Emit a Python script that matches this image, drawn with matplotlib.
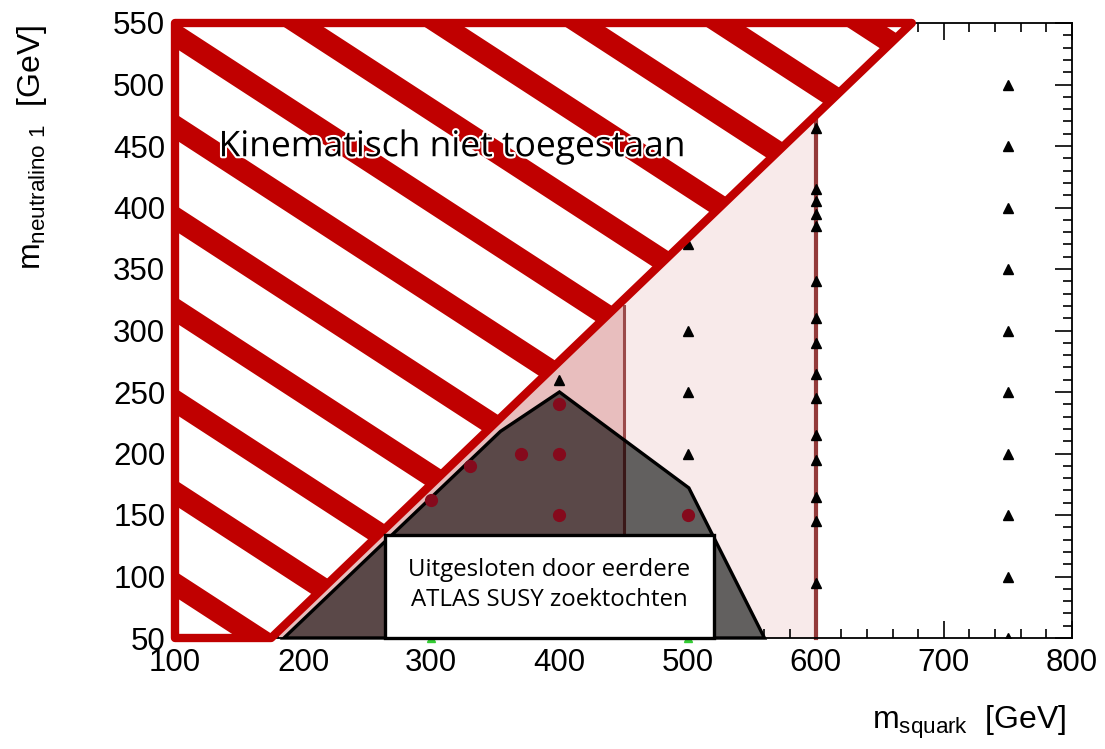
import numpy as np
import matplotlib
matplotlib.use("Agg")
import matplotlib.pyplot as plt
from matplotlib.patches import Polygon, Rectangle
import matplotlib.patheffects as pe

plt.rcParams['font.family'] = ['Liberation Sans', 'DejaVu Sans']
plt.rcParams['mathtext.fontset'] = 'custom'
plt.rcParams['mathtext.rm'] = 'Liberation Sans'
plt.rcParams['mathtext.default'] = 'regular'

# ---------------- data ----------------
x_ticks = [100, 200, 300, 400, 500, 600, 700, 800]
y_ticks = [50, 100, 150, 200, 250, 300, 350, 400, 450, 500, 550]

# kinematically forbidden region (hatched)
kin_x = [100, 100, 675, 175]
kin_y = [50, 550, 550, 50]

# excluded by earlier ATLAS SUSY searches
excl_x = [185, 354, 400, 501, 560]
excl_y = [50, 218, 250, 172, 50]

# shaded sensitivity regions
band1_x = [175, 450, 450]
band1_y = [50, 50, 325]
band2_x = [450, 600, 600, 450]
band2_y = [50, 50, 475, 325]
edge450_y = [50, 320]
edge450_dark_y = [50, 211]
edge600_y = [50, 472]

# signal grid points (triangles)
tri_x = ([400] +
         [500] * 4 +
         [600] * 15 +
         [750] * 10)
tri_y = ([260] +
         [370, 300, 250, 200] +
         [465, 415, 405, 395, 385, 340, 310, 290, 265, 245, 215, 195, 165, 145, 95] +
         [500, 450, 400, 350, 300, 250, 200, 150, 100, 50])

# excluded points (circles)
circ_x = [300, 330, 370, 400, 400, 400, 500]
circ_y = [162, 190, 200, 240, 200, 150, 150]

# points on the lower edge (green, mostly hidden)
green_x = [300, 500]
green_y = [50, 50]

kin_label = "Kinematisch niet toegestaan"
excl_label = "Uitgesloten door eerdere\nATLAS SUSY zoektochten"

# ---------------- figure ----------------
W, H = 1105, 749
fig = plt.figure(figsize=(W / 100, H / 100), dpi=100)
ax = fig.add_axes([175 / W, 1 - 638 / H, (1072 - 175) / W, (638 - 23) / H])
ax.set_xlim(100, 800)
ax.set_ylim(50, 550)

RED = '#c00000'

# pink bands
ax.fill(band1_x, band1_y, color='#e8bebe', zorder=1, lw=0)
ax.fill(band2_x, band2_y, color='#f8eaea', zorder=1, lw=0)

# excluded region
ex_poly = list(zip(excl_x, excl_y))
p_right = Polygon(ex_poly, closed=True, facecolor='#62605f', edgecolor='none', zorder=2)
ax.add_patch(p_right)
p_left = Polygon(ex_poly, closed=True, facecolor='#5a4848', edgecolor='none', zorder=2.1)
ax.add_patch(p_left)
clip_rect = Rectangle((100, 50), 350, 500, transform=ax.transData, visible=False)
ax.add_patch(clip_rect)
p_left.set_clip_path(clip_rect)

# vertical boundary lines
ax.plot([450, 450], edge450_y, color='#9b4a4a', lw=2.2, zorder=2.2)
ax.plot([450, 450], edge450_dark_y, color='#3a1818', lw=2.2, zorder=2.3)
ax.plot([600, 600], edge600_y, color='#933a3a', lw=3, zorder=2.2, clip_on=False)

ax.plot(green_x, green_y, linestyle='none', marker='^', ms=6, color='#33cc33',
        zorder=2.35, clip_on=False)

p_edge = Polygon(ex_poly, closed=True, facecolor='none', edgecolor='black',
                 lw=2.4, zorder=2.5, clip_on=False)
ax.add_patch(p_edge)

# points
ax.plot(tri_x, tri_y, linestyle='none', marker='^', ms=6.5, color='black', zorder=3)
ax.plot(circ_x, circ_y, linestyle='none', marker='o', ms=8.5, color='#850a1c', zorder=3)

# hatched kinematic region
kin_poly = list(zip(kin_x, kin_y))
kin_fill = Polygon(kin_poly, closed=True, facecolor='white', edgecolor='none', zorder=4)
ax.add_patch(kin_fill)
xs = np.linspace(100, 700, 50)
slope = 0.677
thick = 21
for c in np.arange(551 + 74.4 * 6, 40, -74.4):
    up = c - slope * (xs - 100)
    fb = ax.fill_between(xs, up - thick, up, color=RED, lw=0, zorder=4.1)
    fb.set_clip_path(kin_fill)
kin_edge = Polygon(kin_poly, closed=True, facecolor='none', edgecolor=RED,
                   lw=6, joinstyle='round', zorder=4.2, clip_on=False)
ax.add_patch(kin_edge)

# legend box
box = Rectangle((264, 50), 257, 84, facecolor='white', edgecolor='black',
                lw=2.4, zorder=5, clip_on=False)
ax.add_patch(box)
ax.text(392, 93, excl_label, ha='center', va='center', fontsize=17.3,
        family='Open Sans', linespacing=1.35, zorder=6)

ax.text(134, 449, kin_label, ha='left', va='center', fontsize=25.5,
        family='Open Sans', zorder=6,
        path_effects=[pe.withStroke(linewidth=3, foreground='white')])

# axes styling
ax.set_xticks(x_ticks)
ax.set_yticks(y_ticks)
ax.set_xticks(np.arange(100, 801, 20), minor=True)
ax.set_yticks(np.arange(50, 551, 10), minor=True)
ax.tick_params(which='both', direction='in', top=True, right=True,
               labelsize=22.5, width=1.2, pad=7)
ax.tick_params(which='major', length=12)
ax.tick_params(which='minor', length=6.5)
for s in ax.spines.values():
    s.set_linewidth(1.3)

fig.text(32 / W, 1 - 25 / H, r'm$_{\rm neutralino\ 1}$  [GeV]', rotation=90,
         ha='center', va='top', fontsize=23)
fig.text(1066 / W, 1 - 729 / H, r'm$_{\rm squark}$  [GeV]', ha='right',
         va='baseline', fontsize=23)

fig.savefig('out.png', dpi=100)
